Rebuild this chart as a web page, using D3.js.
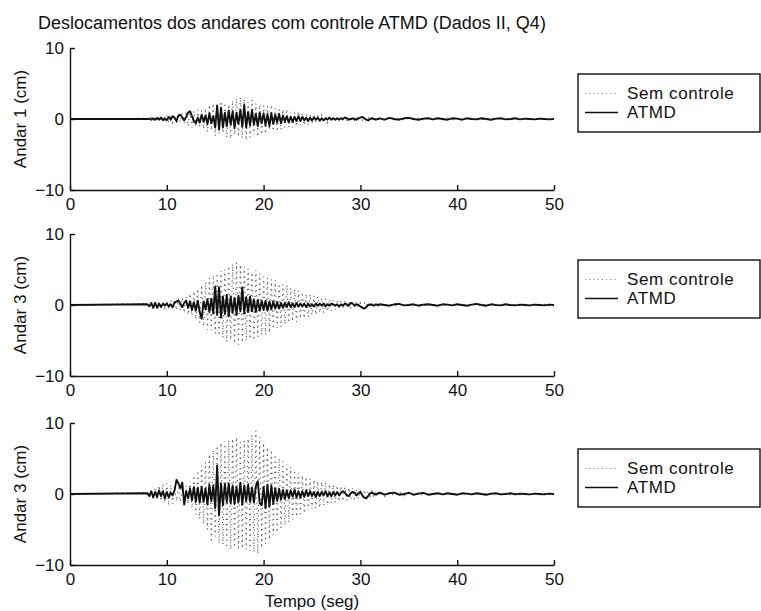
<!DOCTYPE html>
<html><head><meta charset="utf-8">
<script src="https://cdn.jsdelivr.net/npm/d3@7"></script>
<style>
body{margin:0;background:#fff}
svg{display:block}
text{font-family:"Liberation Sans",Arial,Helvetica,sans-serif;fill:#111}
</style>
</head><body>
<svg id="chart" width="761" height="611"></svg>
<script>
// ---------- data ----------
const chartTitle = "Deslocamentos dos andares com controle ATMD (Dados II, Q4)";
const xLabel = "Tempo (seg)";
const panelLabels = ["Andar 1 (cm)", "Andar 3 (cm)", "Andar 3 (cm)"];
const seriesNames = ["Sem controle", "ATMD"];
const xTicks = [0, 10, 20, 30, 40, 50];
const yTicks = [-10, 0, 10];

// sampled signals: quiet (0) from t=0, dense samples from 8 s every 0.2 s, tail from 32 s every 0.5 s
const quietStart = 0;
const denseStart = 8, denseStep = 0.2;
const tailStart = 32, tailStep = 0.5;

const p1Sem = [
 0.1,-0.2,0.2,-0.3,0.3,-0.2,0.4,-0.3,0.3,-0.5,
 0.5,-0.4,0.6,-0.5,0.4,-0.6,0.7,-0.5,0.8,-0.6,
 0.9,-1.0,0.8,-1.2,1.1,-0.9,1.3,-1.0,1.2,-1.4,
 1.5,-1.8,2.0,-1.6,2.2,-2.4,1.9,-2.1,2.5,-2.0,
 2.3,-2.6,2.1,-2.8,2.6,-2.2,2.9,-2.5,3.1,-2.7,
 2.8,-3.0,2.4,-2.6,2.7,-2.3,2.2,-2.5,2.0,-2.2,
 1.9,-2.1,1.8,-1.6,2.0,-1.7,1.5,-1.8,1.4,-1.5,
 1.3,-1.2,1.4,-1.1,1.0,-1.2,0.9,-1.0,1.1,-0.8,
 0.8,-0.9,0.7,-0.8,0.6,-0.7,0.7,-0.5,0.6,-0.6,
 0.5,-0.5,0.4,-0.5,0.4,-0.3,0.4,-0.4,0.3,-0.3,
 0.3,-0.3,0.3,-0.2,0.3,-0.3,0.2,-0.2,0.3,-0.2,
 0.2,-0.2,0.2,-0.2,0.2,-0.1,0.2,-0.2,0.1,-0.1];
const p1SemTail = [0.15,-0.15,0.1,-0.15,0.1,-0.1,0.15,-0.1,0.1,-0.1,0.1,-0.1,0.1,-0.1,0.1,-0.1,0.1,-0.1,0.1,-0.1,
 0.1,-0.1,0.1,-0.1,0.1,-0.1,0.1,-0.1,0.1,-0.1,0.1,-0.1,0.1,-0.1,0.1,-0.1,0];
const p1Atmd = [
 0,0.05,-0.1,0.1,-0.1,0.15,-0.1,0.2,-0.15,0.1,
 -0.2,0.3,-0.1,0.4,0.2,-0.3,0.5,0.6,0.2,-0.2,
 0.3,0.9,1.1,0.4,-0.3,-0.6,0.2,-0.5,0.6,-0.4,
 0.5,-0.7,0.8,-0.6,0.4,-1.2,1.9,-1.5,1.6,-1.2,
 0.9,-1.0,1.2,-0.8,1.1,-1.3,0.9,-0.7,1.3,-1.1,
 2.0,-1.2,1.0,-0.9,1.3,-0.8,0.7,-1.0,0.9,-0.6,
 0.8,-0.9,0.7,-1.0,0.8,-0.7,0.6,-0.5,0.7,-0.6,
 0.5,-0.4,0.4,-0.5,0.3,-0.4,0.3,-0.3,0.4,-0.3,
 0.3,-0.2,0.2,-0.3,0.2,-0.2,0.2,-0.1,0.2,-0.2,
 0.1,-0.2,0.1,-0.1,0.2,-0.1,0.1,-0.1,0.1,-0.1,
 0.1,0,0.2,0.1,-0.1,0,0.1,0,-0.1,0.1,
 0.2,0.3,0.1,-0.1,-0.2,0,0.1,0,-0.1,0];
const p1AtmdTail = [0.1,-0.1,0.15,0,-0.1,0.1,0.15,0,-0.1,0.05,0.1,-0.05,0.1,0,-0.1,0.1,0.05,-0.1,0.1,0,
 -0.05,0.1,0,-0.1,0.05,0.1,-0.05,0,0.1,-0.05,0.05,0,-0.05,0.05,0,-0.05,0];

const p2Sem = [
 0.2,-0.2,0.3,-0.3,0.4,-0.3,0.5,-0.4,0.4,-0.5,
 0.6,-0.5,0.7,-0.6,0.8,-0.7,0.9,-0.8,1.0,-1.1,
 1.2,-1.4,1.6,-1.5,1.9,-2.0,2.3,-2.5,2.8,-3.0,
 3.2,-3.5,3.8,-3.6,4.2,-4.0,4.5,-4.3,4.8,-4.6,
 5.0,-5.2,5.5,-4.9,5.8,-5.4,6.0,-5.6,5.7,-5.3,
 5.4,-5.0,5.1,-4.8,4.6,-5.0,4.9,-4.5,4.4,-4.2,
 4.0,-4.2,3.8,-3.9,3.6,-3.4,3.5,-3.2,3.0,-3.1,
 2.9,-2.7,2.8,-2.5,2.4,-2.3,2.2,-2.4,2.0,-1.9,
 1.8,-1.9,1.6,-1.7,1.5,-1.4,1.3,-1.4,1.2,-1.1,
 1.0,-1.1,0.9,-0.9,0.8,-0.8,0.7,-0.7,0.6,-0.6,
 0.6,-0.5,0.5,-0.5,0.4,-0.4,0.4,-0.3,0.4,-0.3,
 0.3,-0.3,0.3,-0.2,0.3,-0.2,0.2,-0.2,0.2,-0.2];
const p2SemTail = [0.2,-0.2,0.15,-0.2,0.15,-0.15,0.15,-0.1,0.1,-0.1,0.1,-0.1,0.1,-0.1,0.1,-0.1,0.1,-0.1,0.1,-0.1,
 0.1,-0.1,0.1,-0.1,0.1,-0.1,0.1,-0.1,0.1,-0.1,0.1,-0.1,0.1,-0.1,0.1,-0.1,0];
const p2Atmd = [
 0.1,-0.2,0.3,-0.4,0.3,-0.4,0.2,-0.3,0.2,-0.1,
 0.2,-0.2,0.1,-0.3,0.3,0.5,0.6,0.2,-0.3,0.3,
 0.6,-0.4,0.5,-0.7,0.4,-0.8,0.6,-1.0,-1.9,0.5,
 -0.6,0.8,-1.0,0.9,-1.2,2.6,-1.4,2.5,-1.8,1.2,
 -1.3,1.4,-1.6,1.2,-1.1,1.0,-1.4,1.3,-0.9,2.5,
 -1.2,1.1,-1.0,1.2,-0.9,0.8,-1.0,0.7,-0.8,0.6,
 -0.7,0.6,-0.8,0.5,-0.6,0.5,-0.5,0.4,-0.5,0.3,
 -0.4,0.3,-0.3,0.4,-0.3,0.2,-0.3,0.3,-0.2,0.2,
 -0.2,0.2,-0.3,0.2,-0.2,0.1,-0.2,0.2,-0.1,0.2,
 -0.1,0.2,-0.2,0.1,-0.1,0.2,0.1,-0.1,0.1,-0.2,
 0.1,-0.1,0.2,0.1,-0.1,0.3,0.2,-0.1,0.1,0,
 -0.2,-0.4,-0.5,-0.3,0,0.1,0,-0.1,0.1,0];
const p2AtmdTail = [0.1,0,-0.1,0.1,0.15,-0.05,0,0.1,-0.1,0.05,0.1,0,-0.1,0.1,0.05,-0.05,0.1,0,-0.1,0.05,
 0.15,0,-0.1,0.1,0,-0.05,0.1,0,-0.05,0.05,0,-0.05,0.05,0,-0.05,0.05,0];

const p3Sem = [
 0.2,-0.3,0.5,-0.6,0.8,-0.9,1.2,-1.0,1.4,-1.2,
 1.5,-1.6,1.3,-1.4,1.1,-1.0,0.9,-1.1,1.0,-0.9,
 1.2,-1.4,1.8,-2.0,2.6,-2.9,3.3,-3.5,4.0,-4.2,
 4.5,-5.0,5.6,-6.8,6.2,-6.0,6.8,-7.0,7.2,-7.1,
 7.4,-7.6,7.6,-7.8,7.8,-7.5,8.0,-7.9,7.6,-7.7,
 7.5,-7.8,7.8,-8.0,8.3,-8.2,8.9,-8.4,8.0,-7.6,
 7.2,-7.0,6.6,-6.4,6.2,-5.8,5.6,-5.4,5.0,-4.8,
 4.6,-4.4,4.2,-4.0,3.8,-3.6,3.4,-3.2,3.0,-2.8,
 2.6,-2.7,2.4,-2.3,2.2,-2.1,2.0,-2.0,1.8,-1.9,
 1.7,-1.6,1.6,-1.5,1.4,-1.3,1.3,-1.2,1.2,-1.1,
 1.1,-1.0,1.0,-0.9,0.9,-0.8,0.8,-0.8,0.7,-0.7,
 0.6,-0.6,0.6,-0.5,0.5,-0.5,0.4,-0.4,0.4,-0.4];
const p3SemTail = [0.35,-0.35,0.3,-0.3,0.3,-0.25,0.25,-0.2,0.2,-0.2,0.2,-0.15,0.15,-0.15,0.15,-0.1,0.1,-0.1,0.1,-0.1,
 0.1,-0.1,0.1,-0.1,0.1,-0.1,0.1,-0.1,0.1,-0.1,0.1,-0.1,0.1,-0.1,0.1,-0.1,0];
const p3Atmd = [
 0.1,-0.3,0.4,-0.5,0.3,-0.4,0.5,-0.3,0.4,-0.6,
 0.3,-0.5,0.2,-0.2,0.5,2.0,1.5,0.8,1.6,-1.5,
 0.4,-0.6,0.8,-0.9,1.0,-1.1,0.9,-1.2,1.0,-1.1,
 0.8,-1.5,1.3,-1.0,1.2,-2.0,4.0,-3.0,1.5,-1.6,
 1.4,-1.2,1.5,-1.3,1.2,-1.4,1.0,-1.2,1.6,-1.5,
 1.2,-1.0,1.3,-1.1,0.9,-1.2,1.1,1.8,-1.3,-1.6,
 1.0,-2.0,1.3,-1.8,1.2,-1.4,0.8,-1.0,0.7,-0.8,
 0.6,-0.7,0.5,-0.6,0.5,-0.4,0.6,-0.5,0.4,-0.5,
 0.4,-0.4,0.5,-0.3,0.4,-0.3,0.3,-0.4,0.3,-0.3,
 0.3,-0.2,0.4,-0.3,0.2,-0.3,0.3,-0.2,0.3,-0.2,
 0.2,0.4,0.2,-0.2,-0.3,0.1,0.3,0.2,-0.2,0.1,
 0.3,-0.2,-0.5,-0.6,-0.3,0.1,0.2,0,-0.1,0.1];
const p3AtmdTail = [0.2,-0.1,0.1,0.2,-0.1,0,0.15,-0.1,0.05,0.15,-0.1,0,0.1,-0.05,0.1,0,-0.1,0.1,0.05,-0.05,
 0.1,0,-0.1,0.05,0.1,-0.05,0,0.1,-0.05,0.05,0,-0.05,0.05,0,-0.05,0.05,0];

const panelSem = [[p1Sem, p1SemTail], [p2Sem, p2SemTail], [p3Sem, p3SemTail]];
const panelAtmd = [[p1Atmd, p1AtmdTail], [p2Atmd, p2AtmdTail], [p3Atmd, p3AtmdTail]];

// ---------- layout ----------
const svg = d3.select("#chart");
const panelBands = [[48, 190], [234, 376], [423, 565]];
const x = d3.scaleLinear().domain([0, 50]).range([70, 554]);
const FS = 17, FS_BIG = 18;

function toPoints(pair) {
  const [dense, tail] = pair;
  const pts = [{t: quietStart, v: 0}];
  dense.forEach((v, i) => pts.push({t: denseStart + i * denseStep, v}));
  tail.forEach((v, i) => pts.push({t: tailStart + i * tailStep, v}));
  return pts;
}

svg.append("text").attr("x", 38).attr("y", 29)
  .style("font-size", FS_BIG + "px").text(chartTitle);

panelBands.forEach(([top, bottom], k) => {
  const y = d3.scaleLinear().domain([-10, 10]).range([bottom, top]);
  const g = svg.append("g");
  const line = d3.line().x(d => x(d.t)).y(d => y(d.v));

  g.append("path").datum(toPoints(panelSem[k]))
    .attr("d", line).attr("fill", "none")
    .attr("stroke", "#555").attr("stroke-width", 1.1)
    .attr("stroke-dasharray", "1.2,4");
  g.append("path").datum(toPoints(panelAtmd[k]))
    .attr("d", line).attr("fill", "none")
    .attr("stroke", "#111").attr("stroke-width", 1.9)
    .attr("stroke-linejoin", "round");

  const ax = g.append("g").attr("transform", `translate(0,${bottom})`)
    .call(d3.axisBottom(x).tickValues(xTicks).tickFormat(d3.format("d"))
      .tickSizeInner(-5).tickSizeOuter(0).tickPadding(8));
  const ay = g.append("g").attr("transform", `translate(${x(0)},0)`)
    .call(d3.axisLeft(y).tickValues(yTicks).tickFormat(d3.format("d"))
      .tickSizeInner(-5).tickSizeOuter(0).tickPadding(6));
  [ax, ay].forEach(a => {
    a.selectAll("path,line").attr("stroke", "#111").attr("stroke-width", 1.4);
    a.selectAll("text").style("font-size", FS + "px")
      .style("font-family", "'Liberation Sans',Arial,sans-serif").attr("fill", "#111");
  });

  const cy = (top + bottom) / 2;
  svg.append("text")
    .attr("transform", `translate(26,${cy}) rotate(-90)`)
    .attr("text-anchor", "middle").style("font-size", FS + "px")
    .text(panelLabels[k]);

  // legend
  const lc = cy - 16;
  const lg = svg.append("g");
  lg.append("rect").attr("x", 578).attr("y", lc - 29).attr("width", 182).attr("height", 58)
    .attr("fill", "#fff").attr("stroke", "#111").attr("stroke-width", 1.4);
  const rows = [lc - 9.5, lc + 9.5];
  lg.append("line").attr("x1", 585).attr("x2", 618).attr("y1", rows[0]).attr("y2", rows[0])
    .attr("stroke", "#888").attr("stroke-width", 1).attr("stroke-dasharray", "1.2,3");
  lg.append("line").attr("x1", 585).attr("x2", 618).attr("y1", rows[1]).attr("y2", rows[1])
    .attr("stroke", "#111").attr("stroke-width", 1.4);
  seriesNames.forEach((n, i) => {
    lg.append("text").attr("x", 627).attr("y", rows[i]).attr("dy", "0.35em")
      .style("font-size", FS + "px").style("letter-spacing", "0.6px").text(n);
  });
});

svg.append("text").attr("x", (x(0) + x(50)) / 2).attr("y", 607)
  .attr("text-anchor", "middle").style("font-size", FS + "px").text(xLabel);
</script>
</body></html>
